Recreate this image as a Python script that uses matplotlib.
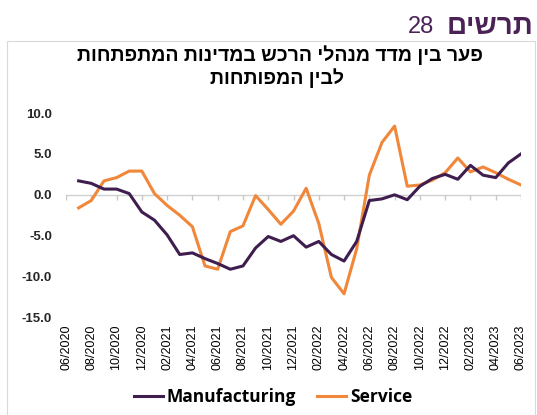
import numpy as np
import matplotlib
matplotlib.use("Agg")
import matplotlib.pyplot as plt
from matplotlib.patches import Rectangle

# monthly data 07/2020 - 06/2023
manufacturing = [1.7, 1.4, 0.7, 0.7, 0.15, -2.1, -3.1, -4.9, -7.3, -7.1, -7.8, -8.4,
                 -9.1, -8.7, -6.5, -5.1, -5.7, -5.0, -6.4, -5.7, -7.3, -8.1, -5.7, -0.7,
                 -0.5, 0.0, -0.6, 1.05, 2.0, 2.5, 1.9, 3.6, 2.4, 2.1, 3.9, 5.0]
service = [-1.6, -0.7, 1.7, 2.1, 2.9, 2.9, 0.15, -1.3, -2.5, -3.9, -8.7, -9.1,
           -4.5, -3.8, -0.1, -1.8, -3.6, -2.0, 0.8, -3.5, -10.1, -12.1, -6.6, 2.4,
           6.4, 8.4, 1.05, 1.2, 1.8, 2.7, 4.5, 2.8, 3.4, 2.7, 1.9, 1.2]
tick_labels = ["06/2020", "08/2020", "10/2020", "12/2020", "02/2021", "04/2021",
               "06/2021", "08/2021", "10/2021", "12/2021", "02/2022", "04/2022",
               "06/2022", "08/2022", "10/2022", "12/2022", "02/2023", "04/2023",
               "06/2023"]
y_ticks = [10, 5, 0, -5, -10, -15]

title_line1 = "פער בין מדד מנהלי הרכש במדינות המתפתחות"
title_line2 = "לבין המפותחות"
header_word = "תרשים"
header_num = "28"

purple = "#3F1D4F"
orange = "#F0873A"
head_col = "#4A2255"

plt.rcParams['font.family'] = ['Liberation Sans', 'DejaVu Sans']

W, H = 537, 415
fig = plt.figure(figsize=(W / 100, H / 100), dpi=100)

def fx(px):
    return px / W

def fy(py):
    return 1 - py / H

# frame around chart
fig.patches.append(Rectangle((fx(7), -0.02), fx(535) - fx(7), fy(41) + 0.02,
                             transform=fig.transFigure, fill=False,
                             edgecolor="#D9D9D9", lw=0.8))

ax = fig.add_axes([fx(66), fy(317.5), fx(521) - fx(66), fy(113) - fy(317.5)])

x = np.arange(1, len(manufacturing) + 1)
ax.axhline(0, color="#D0D0D0", lw=1, zorder=1)
tick_pos = np.arange(0, 37, 2)
ax.vlines(tick_pos, 0, -0.6, color="#C8C8C8", lw=1, zorder=1)

ax.plot(x, manufacturing, color=purple, lw=2.2, label="Manufacturing", zorder=3)
ax.plot(x, service, color=orange, lw=2.2, label="Service", zorder=2)

ax.set_xlim(0, 36)
ax.set_ylim(-15, 10)
ax.set_xticks(tick_pos)
ax.set_xticklabels(tick_labels, rotation=90, fontsize=9)
ax.set_yticks(y_ticks)
ax.set_yticklabels([f"{v:.1f}" for v in y_ticks], fontsize=9.5, fontweight="bold",
                   color="#262626")
ax.tick_params(axis="x", length=0, pad=5)
ax.tick_params(axis="y", length=0, pad=10)
for s in ax.spines.values():
    s.set_visible(False)
ax.set_facecolor("none")

leg = fig.legend(loc="center", bbox_to_anchor=(fx(273), fy(397)), ncol=2,
                 frameon=False, handlelength=1.7, handletextpad=0.2,
                 columnspacing=1.2,
                 prop={"family": ["Open Sans", "DejaVu Sans"], "weight": "bold",
                       "size": 12.5})

# titles (hebrew drawn in visual order)
fig.text(fx(280), fy(55), title_line1[::-1], ha="center", va="center",
         fontsize=14, fontweight="bold", color="black")
fig.text(fx(277), fy(78), title_line2[::-1], ha="center", va="center",
         fontsize=14, fontweight="bold", color="black")

fig.text(fx(533), fy(27), header_word[::-1], ha="right", va="center",
         fontsize=20, fontweight="bold", color=head_col)
fig.text(fx(434), fy(27), header_num, ha="right", va="center",
         fontsize=17, color=head_col)

fig.savefig("out.png", dpi=100)
